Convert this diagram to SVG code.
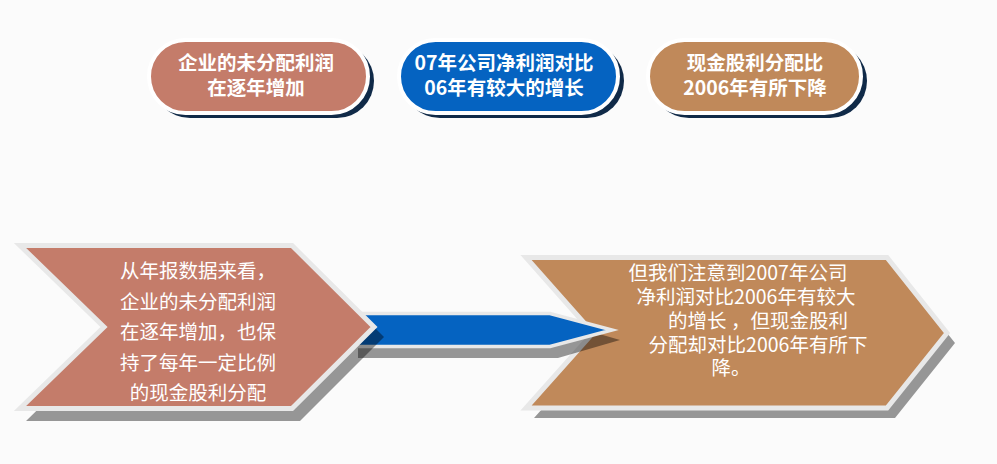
<svg xmlns="http://www.w3.org/2000/svg" width="997" height="464" viewBox="0 0 997 464">
<style>
.pill{stroke:#ffffff;stroke-width:4}
.pshadow{fill:#102a48}
.chev{stroke:#e8e8e8;stroke-width:5;stroke-linejoin:miter;stroke-miterlimit:10}
.shadow{fill:#000000;fill-opacity:0.4}
.pt{font-family:"Noto Sans CJK SC","Noto Sans",sans-serif;font-size:19.5px;font-weight:bold;fill:#ffffff;text-anchor:middle}
.ct{font-family:"Noto Sans CJK SC","Noto Sans",sans-serif;font-size:19.5px;fill:#ffffff;text-anchor:middle}
</style>
<rect x="0" y="0" width="997" height="464" fill="#fbfbfb"/>
<g id="pill1">
<rect class="pshadow" x="153" y="44" width="221" height="74" rx="37"/>
<rect class="pill" x="149" y="40" width="219" height="73" rx="36.5" fill="#c47c6a"/>
<text class="pt" x="256" y="70">企业的未分配利润</text>
<text class="pt" x="256" y="95">在逐年增加</text>
</g>
<g id="pill2">
<rect class="pshadow" x="403" y="44" width="221" height="74" rx="37"/>
<rect class="pill" x="399" y="40" width="219" height="73" rx="36.5" fill="#0563c1"/>
<text class="pt" x="504" y="70">07年公司净利润对比</text>
<text class="pt" x="504" y="95">06年有较大的增长</text>
</g>
<g id="pill3">
<rect class="pshadow" x="652" y="44" width="215" height="74" rx="37"/>
<rect class="pill" x="648" y="40" width="213" height="73" rx="36.5" fill="#c0895a"/>
<text class="pt" x="755" y="70">现金股利分配比</text>
<text class="pt" x="755" y="95">2006年有所下降</text>
</g>
<g id="right-chevron">
<polygon class="shadow" points="526,257.5 887,257.5 947,333 887,408 526,408 593,333" stroke="#000" stroke-opacity="0" stroke-width="5" transform="translate(8,10)"/>
<polygon class="chev" points="526,257.5 887,257.5 947,333 887,408 526,408 593,333" fill="#c0895a"/>
<text class="ct"><tspan x="738" y="280">但我们注意到2007年公司</tspan><tspan x="746" y="304">净利润对比2006年有较大</tspan><tspan x="758" y="328">的增长 ，但现金股利</tspan><tspan x="758" y="352">分配却对比2006年有所下</tspan><tspan x="731" y="375">降。</tspan></text>
</g>
<g id="connectors">
<polygon class="shadow" points="358,322 558,322 620,340 558,358 358,358"/>
<polygon points="350,313.5 550,313.5 612,330 550,346.5 350,346.5" fill="#0563c1" stroke="#e8e8e8" stroke-width="3.5" stroke-linejoin="miter" stroke-miterlimit="10"/>
</g>
<g id="left-chevron">
<polygon class="shadow" points="26,253 300,253 384,337 300,421 26,421 112,337"/>
<polygon class="chev" points="20,245.5 292,245.5 374,327 292,408.5 20,408.5 104,327" fill="#c47c6a"/>
<text class="ct" x="198" y="278">从年报数据来看，</text>
<text class="ct" x="198" y="308.5">企业的未分配利润</text>
<text class="ct" x="198" y="339">在逐年增加，也保</text>
<text class="ct" x="198" y="369.5">持了每年一定比例</text>
<text class="ct" x="198" y="400">的现金股利分配</text>
</g>
</svg>
